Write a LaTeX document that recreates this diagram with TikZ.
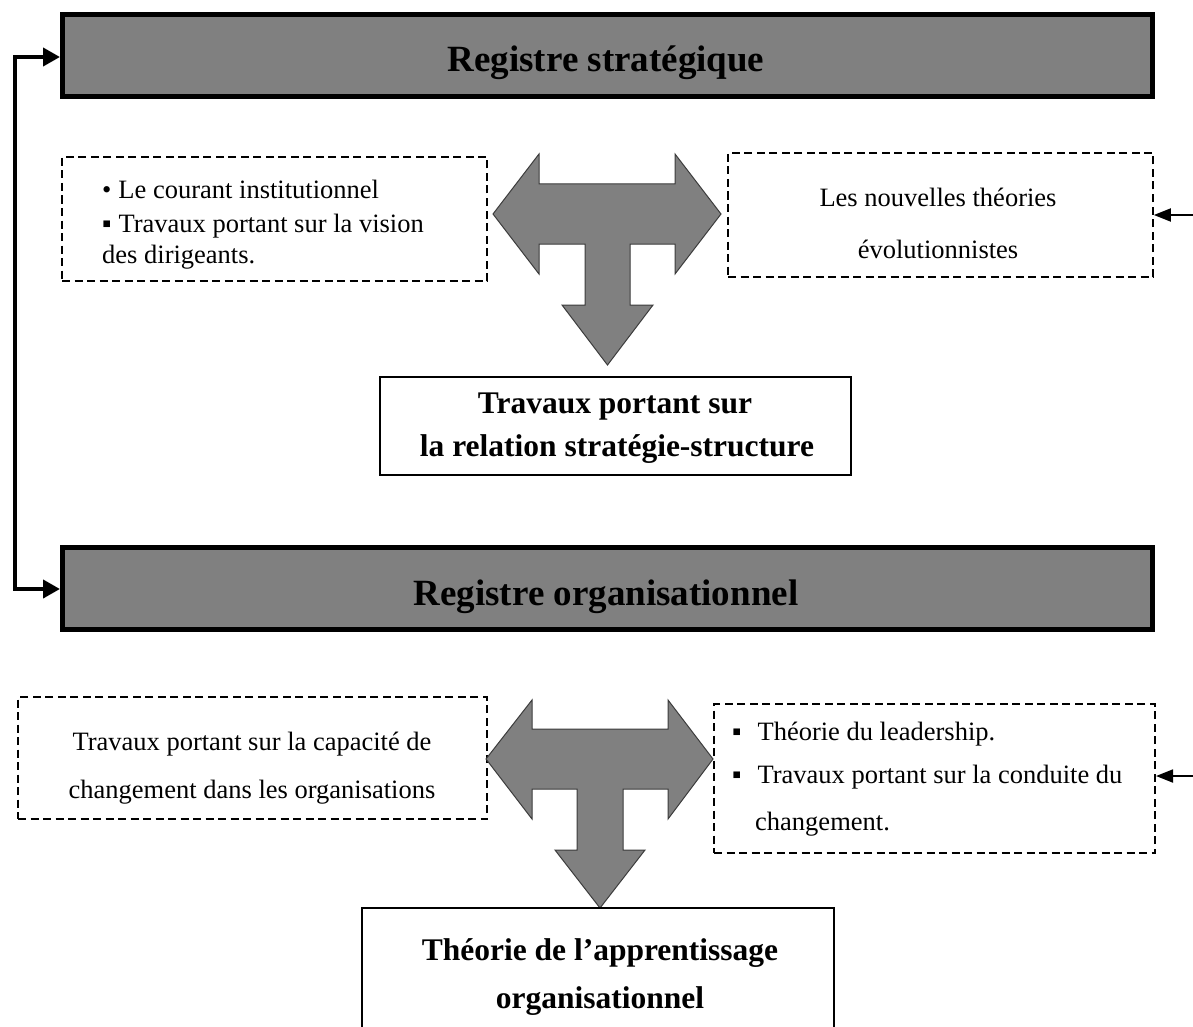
\documentclass[tikz,border=0pt]{standalone}
\usepackage{fontspec}
\setmainfont{Liberation Serif}
\usetikzlibrary{arrows.meta}
\definecolor{bargray}{RGB}{128,128,128}
\definecolor{shapegray}{RGB}{128,128,128}
\definecolor{edgegray}{RGB}{60,60,60}
\tikzset{
  bar/.style={draw=black, line width=5pt, fill=bargray, minimum width=1090pt, minimum height=82pt, inner sep=0pt},
  dbox/.style={draw=black, dash pattern=on 8pt off 4.5pt, line width=1.6pt, inner sep=0pt},
  sbox/.style={draw=black, line width=1.5pt, inner sep=0pt},
  bartxt/.style={font=\bfseries\fontsize{37}{40}\selectfont, inner sep=0pt, anchor=base},
  boldtxt/.style={font=\bfseries\fontsize{31.5}{36}\selectfont, inner sep=0pt, anchor=base},
  bodyl/.style={font=\fontsize{26.5}{30}\selectfont, inner sep=0pt, anchor=base west},
  bodyc/.style={font=\fontsize{26.5}{30}\selectfont, inner sep=0pt, anchor=base},
  tarrow/.style={fill=shapegray, draw=edgegray, line width=1pt, line join=miter},
  bigarrow/.style={line width=4pt, {Triangle[length=17pt,width=18pt]}-{Triangle[length=17pt,width=18pt]}},
  smallarrow/.style={line width=1.8pt, -{Triangle[length=17pt,width=13pt]}}
}
\begin{document}
\begin{tikzpicture}[x=1pt,y=-1pt]
\clip (0,0) rectangle (1193,1027);
\fill[white] (0,0) rectangle (1193,1027);

% bars
\node[bar] (bar1) at (607.5,55.5) {};
\node[bartxt] (bar1t) at (606,72) {Registre stratégique};
\node[bar] (bar2) at (607.5,588.5) {};
\node[bartxt] (bar2t) at (606,605) {Registre organisationnel};

% bracket arrow on the left
\coordinate (lt) at (15,57);
\coordinate (lb) at (15,589);
\draw[bigarrow] (bar1.west |- lt) -- (lt) -- (lb) -- (bar2.west |- lb);

% upper dashed boxes
\node[dbox, minimum width=425pt, minimum height=124pt] (b1) at (274.5,219) {};
\node[bodyl] (b1a) at (102,198) {•\hspace{7pt}Le courant institutionnel};
\node[bodyl] (b1b) at (102,232) {▪\hspace{7pt}Travaux portant sur la vision};
\node[bodyl] (b1c) at (102,263) {des dirigeants.};

\node[dbox, minimum width=425pt, minimum height=124pt] (b2) at (940.5,215) {};
\node[bodyc] (b2a) at (938,206) {Les nouvelles théories};
\node[bodyc] (b2b) at (938,258) {évolutionnistes};
\coordinate (r1) at (1195,215);
\draw[smallarrow] (r1) -- (b2.east);

% upper T arrow
\draw[tarrow] (493,214) -- (539,154) -- (539,184) -- (675,184) -- (675,154) -- (721,214)
  -- (675,274) -- (675,244) -- (630,244) -- (630,305) -- (653,305) -- (607.5,365)
  -- (562,305) -- (585,305) -- (585,244) -- (539,244) -- (539,274) -- cycle;

% relation box
\node[sbox, minimum width=471pt, minimum height=98pt] (b5) at (615.5,426) {};
\node[boldtxt] (b5a) at (615,413) {Travaux portant sur};
\node[boldtxt] (b5b) at (617,456) {la relation stratégie-structure};

% lower dashed boxes
\node[dbox, line width=2pt, minimum width=469pt, minimum height=122pt] (b3) at (252.5,758) {};
\node[bodyc] (b3a) at (252,750) {Travaux portant sur la capacité de};
\node[bodyc] (b3b) at (252,798) {changement dans les organisations};

\node[dbox, line width=2pt, minimum width=441pt, minimum height=149pt] (b4) at (934.5,778.5) {};
\node[bodyl] (b4a) at (732,740) {▪\hspace{16pt}Théorie du leadership.};
\node[bodyl] (b4b) at (732,783) {▪\hspace{16pt}Travaux portant sur la conduite du};
\node[bodyl] (b4c) at (755,830) {changement.};
\coordinate (r2) at (1195,776);
\draw[smallarrow] (r2) -- (b4.east |- r2);

% lower T arrow
\draw[tarrow] (486,759) -- (532,700) -- (532,729) -- (668,729) -- (668,700) -- (713,759)
  -- (668,819) -- (668,789) -- (623,789) -- (623,850) -- (645,850) -- (600,908)
  -- (555,850) -- (577,850) -- (577,789) -- (532,789) -- (532,819) -- cycle;

% bottom box (cut by the page edge)
\node[sbox, minimum width=472pt, minimum height=160pt] (b6) at (598,988) {};
\node[boldtxt] (b6a) at (600,960) {Théorie de l’apprentissage};
\node[boldtxt] (b6b) at (600,1008) {organisationnel};
\end{tikzpicture}
\end{document}
